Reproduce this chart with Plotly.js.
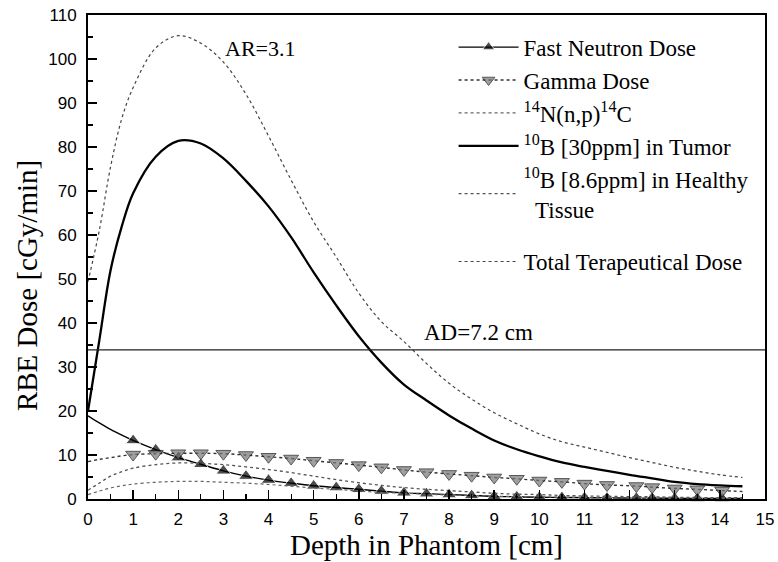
<!DOCTYPE html>
<html>
<head>
<meta charset="utf-8">
<script src="https://cdn.plot.ly/plotly-3.0.1.min.js"></script>
<style>html,body{margin:0;padding:0;background:#fff;}#chart{width:778px;height:562px;}</style>
</head>
<body>
<div id="chart"></div>
<script>
// Depth grid (cm)
const depth = [0,0.25,0.5,0.75,1,1.5,2,2.5,3,3.5,4,4.5,5,5.5,6,6.5,7,7.5,8,8.5,9,9.5,10,10.5,11,11.5,12,12.5,13,13.5,14,14.5];
// Marker-bearing depth grid for neutron / gamma (tail points irregular)
const depthMarked = [0,0.25,0.5,0.75,1,1.5,2,2.5,3,3.5,4,4.5,5,5.5,6,6.5,7,7.5,8,8.5,9,9.5,10,10.5,11,11.5,12.15,12.5,13,13.5,14.05,14.5];

const fastNeutron = [18.9,17.3,15.8,14.5,13.3,11.2,9.4,7.9,6.4,5.2,4.3,3.6,3.0,2.6,2.2,1.8,1.4,1.2,1.0,0.8,0.6,0.5,0.4,0.35,0.3,0.25,0.2,0.2,0.15,0.12,0.1,0.1];
const gammaDose = [8.5,9.0,9.4,9.8,10.1,10.3,10.4,10.4,10.3,10.0,9.6,9.2,8.7,8.2,7.7,7.2,6.6,6.1,5.7,5.3,4.9,4.6,4.2,3.9,3.5,3.2,2.95,2.7,2.4,2.2,1.9,1.7];
const markerShown = [0,0,0,0,1,1,1,1,1,1,1,1,1,1,1,1,1,1,1,1,1,1,1,1,1,1,1,1,1,1,1,0];

const nitrogen14 = [1.0,1.8,2.5,3.0,3.4,3.8,4.0,4.0,3.8,3.6,3.3,2.9,2.5,2.2,1.8,1.5,1.3,1.1,0.9,0.8,0.65,0.55,0.5,0.4,0.35,0.3,0.27,0.23,0.2,0.17,0.15,0.14];
const boronTumor = [20,36,52,62,69.5,77.8,81.4,80.8,77.4,72.3,66.5,59.5,51.5,44,37,31,26,22.4,19,16,13.3,11.3,9.7,8.3,7.3,6.4,5.5,4.7,3.9,3.4,3.1,2.9];
const boronHealthy = [2.0,3.6,5.2,6.2,7.0,7.8,8.2,8.1,7.8,7.3,6.7,6.0,5.2,4.4,3.7,3.1,2.6,2.2,1.9,1.6,1.3,1.1,1.0,0.8,0.7,0.6,0.55,0.5,0.4,0.35,0.3,0.3];
const totalDose = [49.4,61,75.5,86.5,93.5,102.5,105.3,103.6,99.3,92,82.5,72.5,63,55,46.8,40.3,35.8,30.8,26.3,22.7,19.6,17.1,14.8,13.0,11.8,10.6,9.4,8.3,7.2,6.3,5.5,4.9];

const adDepth = [0,15];
const adLevel = [33.9,33.9];

const names = [
  'Fast Neutron Dose',
  'Gamma Dose',
  '<sup>14</sup>N(n,p)<sup>14</sup>C',
  '<sup>10</sup>B [30ppm] in Tumor',
  '<sup>10</sup>B [8.6ppm] in Healthy<br>\u00a0\u00a0Tissue',
  'Total Terapeutical Dose'
];

const msize = markerShown.map(v => v ? 13 : 0);

const traces = [
  {x: depthMarked, y: fastNeutron, name: names[0], mode: 'lines+markers', legendgroup:'g1',
   line: {color:'#000', width:1.4, shape:'spline'}, cliponaxis:false,
   marker: {symbol:'triangle-up', size: msize, color:'#000'}},
  {x: depthMarked, y: gammaDose, name: names[1], mode: 'lines+markers', legendgroup:'g1',
   line: {color:'#333', width:1.4, dash:'dot', shape:'spline'}, cliponaxis:false,
   marker: {symbol:'triangle-down', size: msize, color:'#777', line:{color:'#111', width:1}}},
  {x: depth, y: nitrogen14, name: names[2], mode: 'lines', legendgroup:'g1',
   line: {color:'#666', width:1.2, dash:'dot', shape:'spline'}},
  {x: depth, y: boronTumor, name: names[3], mode: 'lines', legendgroup:'g1',
   line: {color:'#000', width:2.3, shape:'spline'}},
  {x: depth, y: boronHealthy, name: names[4], mode: 'lines', legendgroup:'g1',
   line: {color:'#555', width:1.3, dash:'dot', shape:'spline'}},
  {x: depth, y: totalDose, name: names[5], mode: 'lines', legendgroup:'g2',
   line: {color:'#444', width:1.2, dash:'dot', shape:'spline'}},
  {x: adDepth, y: adLevel, mode: 'lines', showlegend:false, hoverinfo:'skip',
   line: {color:'#222', width:1.1}}
];

const serif = "'Liberation Serif', 'Times New Roman', serif";
const sans = "'Liberation Sans', Arial, sans-serif";
const tickFont = {family: sans, size:17, color:'#000'};

const layout = {
  width: 778, height: 562,
  font: {family: serif, color:'#000', size:23},
  margin: {l:88, r:13, t:15, b:63},
  paper_bgcolor:'#fff', plot_bgcolor:'#fff',
  showlegend: true,
  legend: {x:0.54, y:0.978, xanchor:'left', yanchor:'top', bgcolor:'rgba(0,0,0,0)',
           font:{family:serif, size:23, color:'#000'}, itemwidth:60, tracegroupgap:20},
  xaxis: {range:[0,15], dtick:1, tick0:0, ticks:'inside', ticklen:9, tickwidth:1.5, tickcolor:'#000',
          showline:true, linewidth:2, linecolor:'#000', mirror:true, showgrid:false, zeroline:false,
          tickfont: tickFont, ticklabelstandoff:4,
          minor:{dtick:0.5, ticks:'inside', ticklen:5, tickwidth:1.2, tickcolor:'#000', showgrid:false},
          title:{text:'Depth in Phantom [cm]', font:{family:serif, size:29, color:'#000'}, standoff:0}},
  yaxis: {range:[0,110], dtick:10, tick0:0, ticks:'inside', ticklen:9, tickwidth:1.5, tickcolor:'#000',
          showline:true, linewidth:2, linecolor:'#000', mirror:true, showgrid:false, zeroline:false,
          tickfont: tickFont, ticklabelstandoff:6,
          minor:{dtick:5, ticks:'inside', ticklen:5, tickwidth:1.2, tickcolor:'#000', showgrid:false}},
  annotations: [
    {text:'RBE Dose [cGy/min]', xref:'paper', yref:'paper', x:-0.09, y:0.44,
     xanchor:'center', yanchor:'middle', textangle:-90,
     showarrow:false, font:{family:serif, size:29, color:'#000'}},
    {text:'AR=3.1', xref:'x', yref:'y', x:3.8, y:102.5, showarrow:false,
     font:{family:serif, size:22, color:'#000'}},
    {text:'AD=7.2 cm', xref:'x', yref:'y', x:8.66, y:37.8, showarrow:false,
     font:{family:serif, size:23, color:'#000'}}
  ]
};

Plotly.newPlot('chart', traces, layout, {displayModeBar:false, staticPlot:true});
</script>
</body>
</html>
